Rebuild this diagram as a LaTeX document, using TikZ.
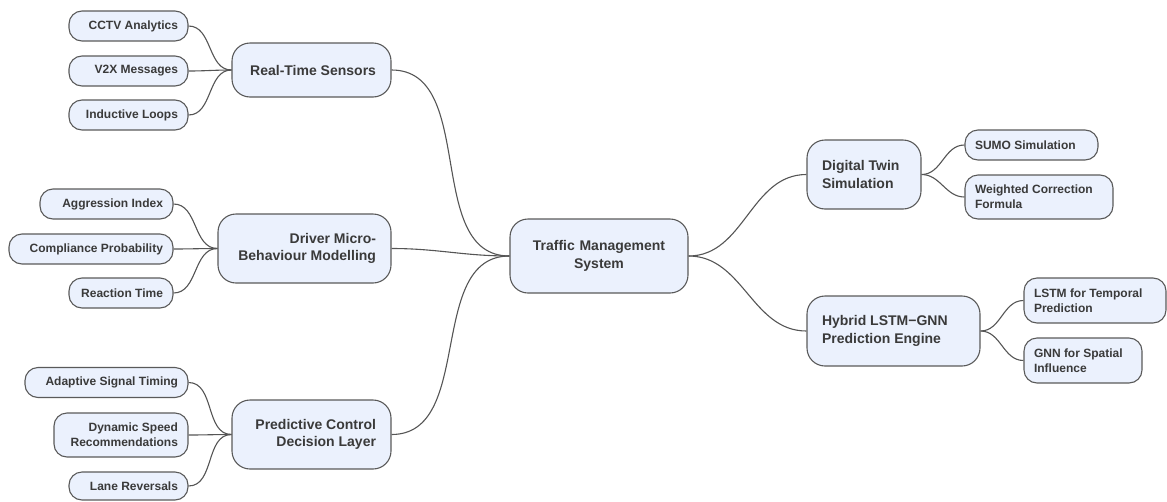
\documentclass[tikz,border=0pt]{standalone}
\usepackage{fontspec}
\setmainfont{Liberation Sans}
\definecolor{boxfill}{HTML}{EBF1FD}
\definecolor{boxline}{HTML}{5A5A5A}
\definecolor{txt}{HTML}{3A3A3A}
\definecolor{conncol}{HTML}{555555}
\begin{document}
\begin{tikzpicture}[x=1pt,y=-1pt,
  base/.style={draw=boxline,fill=boxfill,line width=1.1pt,text=txt,inner ysep=0pt,font=\bfseries},
  leaf/.style={base,rounded corners=13pt,inner xsep=10pt,font=\bfseries\fontsize{12}{15}\selectfont},
  hub/.style={base,rounded corners=18pt,inner xsep=15pt,font=\bfseries\fontsize{14}{17.5}\selectfont},
  leafL/.style={leaf,align=flush right},
  leafR/.style={leaf,align=flush left},
  hubL/.style={hub,align=flush right},
  hubR/.style={hub,align=flush left},
  conn/.style={draw=conncol,line width=1.1pt}
]
\useasboundingbox (0,0) rectangle (1167,501);
% centre
\node[hub,align=center,text width=148pt,minimum height=74pt] (tms) at (599,256) {Traffic Management\\System};
% left hubs
\node[hubL,text width=129pt,minimum height=54pt] (rts) at (311.5,70) {Real-Time Sensors};
\node[hubL,text width=143pt,minimum height=69pt] (drv) at (304.5,248.5) {Driver Micro-\\Behaviour Modelling};
\node[hubL,text width=129pt,minimum height=69pt] (pred) at (311.5,434.5) {Predictive Control\\Decision Layer};
% right hubs
\node[hubR,text width=84pt,minimum height=69pt] (dt) at (864,174.5) {Digital Twin\\Simulation};
\node[hubR,text width=143pt,minimum height=70pt] (hyb) at (893.5,331) {Hybrid LSTM−GNN\\Prediction Engine};
% left leaves
\node[leafL,text width=99pt,minimum height=30pt] (cctv) at (128.5,26) {CCTV Analytics};
\node[leafL,text width=99pt,minimum height=30pt] (v2x) at (128.5,71) {V2X Messages};
\node[leafL,text width=99pt,minimum height=30pt] (ind) at (128.5,115) {Inductive Loops};
\node[leafL,text width=113pt,minimum height=30pt] (agg) at (106.5,204) {Aggression Index};
\node[leafL,text width=144pt,minimum height=30pt] (comp) at (91,249) {Compliance Probability};
\node[leafL,text width=84pt,minimum height=30pt] (react) at (121,293) {Reaction Time};
\node[leafL,text width=143pt,minimum height=30pt] (adapt) at (106.5,382.5) {Adaptive Signal Timing};
\node[leafL,text width=114pt,minimum height=44pt] (dyn) at (121,435) {Dynamic Speed\\Recommendations};
\node[leafL,text width=99pt,minimum height=28pt] (lane) at (128.5,486) {Lane Reversals};
% right leaves
\node[leafR,text width=113pt,minimum height=30pt] (sumo) at (1031.5,145) {SUMO Simulation};
\node[leafR,text width=128pt,minimum height=44pt] (wcf) at (1039,197) {Weighted Correction\\Formula};
\node[leafR,text width=122pt,minimum height=45pt] (lstm) at (1095,300.5) {LSTM for Temporal\\Prediction};
\node[leafR,text width=98pt,minimum height=45pt] (gnn) at (1083,360.5) {GNN for Spatial\\Influence};
% connectors
\foreach \a/\b in {cctv/rts,v2x/rts,ind/rts,agg/drv,comp/drv,react/drv,adapt/pred,dyn/pred,lane/pred,rts/tms,drv/tms,pred/tms}
  \draw[conn] (\a.east) to[out=0,in=180] (\b.west);
\foreach \a/\b in {tms/dt,tms/hyb,dt/sumo,dt/wcf,hyb/lstm,hyb/gnn}
  \draw[conn] (\a.east) to[out=0,in=180] (\b.west);
\end{tikzpicture}
\end{document}
